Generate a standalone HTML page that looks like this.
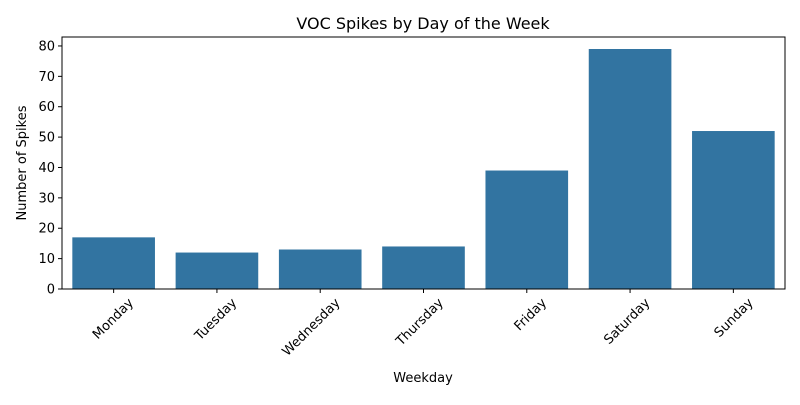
<!DOCTYPE html>
<html><head><meta charset="utf-8"><style>
body{margin:0;background:#fff;font-family:"Liberation Sans","DejaVu Sans",sans-serif}
svg text{font-family:"DejaVu Sans","Liberation Sans",sans-serif;fill:#000}
</style></head><body>
<svg id="chart" width="800" height="400" xmlns="http://www.w3.org/2000/svg">
<text x="423" y="29" font-size="16" text-anchor="middle">VOC Spikes by Day of the Week</text>
<g id="bars"></g><g id="axes"></g>
<text x="423" y="382" font-size="13" text-anchor="middle">Weekday</text>
<text transform="translate(26,163) rotate(-90)" font-size="13" text-anchor="middle">Number of Spikes</text>
</svg>
<script>
const categories=["Monday","Tuesday","Wednesday","Thursday","Friday","Saturday","Sunday"];
const values=[17,12,13,14,39,79,52];
const yTicks=[0,10,20,30,40,50,60,70,80];
const L=62,R=785,T=37,B=289;
const yMax=Math.max(...values)*1.05;
const ns="http://www.w3.org/2000/svg";
const step=(R-L)/categories.length;
const x=i=>L+step*(i+0.5);
const y=v=>B-(B-T)*v/yMax;
function mk(tag,attrs,parent,text){const e=document.createElementNS(ns,tag);for(const k in attrs)e.setAttribute(k,attrs[k]);if(text!==undefined)e.textContent=text;parent.appendChild(e);return e;}
const bars=document.getElementById('bars'),axes=document.getElementById('axes');
values.forEach((v,i)=>{
 const r=mk('rect',{x:x(i)-step*0.4,y:y(v),width:step*0.8,height:B-y(v),fill:'#3274a1'},bars);
 
 
 const t=mk('line',{x1:x(i),x2:x(i),y1:B,y2:B+4,stroke:'#000'},axes);
 
 
 const lb=mk('text',{x:0,y:0,'font-size':13,'text-anchor':'end',transform:`translate(${x(i)+14},${B+8}) rotate(-45)`,dy:'0.7em'},axes,categories[i]);
 
 
});
yTicks.forEach(v=>{
 const t=mk('line',{x1:L-4,x2:L,y1:y(v),y2:y(v),stroke:'#000'},axes);
 
 
 const lb=mk('text',{x:L-7,y:y(v)+4.5,'font-size':13,'text-anchor':'end'},axes,String(v));
 
 
});
const fr=mk('rect',{x:L,y:T,width:R-L,height:B-T,fill:'none',stroke:'#000','stroke-width':1},axes);


</script>
</body></html>
